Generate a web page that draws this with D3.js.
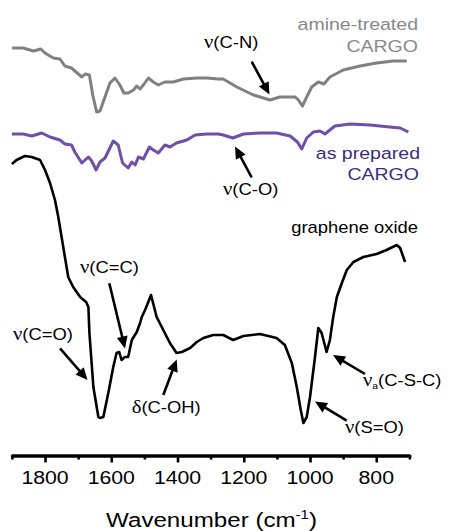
<!DOCTYPE html>
<html>
<head>
<meta charset="utf-8">
<script src="https://cdn.jsdelivr.net/npm/d3@7"></script>
<style>
  body { margin: 0; background: #fff; }
  svg { display: block; font-family: "Liberation Sans", Arial, sans-serif; }
</style>
</head>
<body>
<svg id="chart" width="451" height="531"></svg>
<script>
// IR spectra, transmittance in arbitrary units (offset stacked)
const amineTreated = [[1900,422],[1866,422],[1835,419],[1813,421],[1800,417],[1775,412],[1755,411],[1740,404],[1720,402],[1689,393],[1679,396],[1666,395],[1656,375],[1644,358],[1634,359],[1619,373],[1604,387],[1589,392],[1574,385],[1562,377],[1549,377],[1533,380],[1523,384],[1513,381],[1501,386],[1488,392],[1473,388],[1458,385],[1438,388],[1413,388],[1382,391],[1342,392],[1312,392],[1277,391],[1262,391],[1221,383],[1171,375],[1121,370],[1091,373],[1045,373],[1035,370],[1023,364],[1010,373],[995,383],[975,388],[958,386],[940,393],[900,400],[849,404],[799,407],[749,409],[708,409]];

const asPrepared = [[1900,336],[1866,336],[1840,334],[1810,337],[1785,333],[1755,330],[1740,326],[1720,325],[1710,318],[1689,307],[1669,313],[1659,309],[1646,300],[1634,308],[1619,312],[1594,329],[1579,325],[1566,307],[1549,302],[1538,308],[1528,305],[1518,313],[1503,311],[1485,323],[1473,320],[1458,317],[1438,325],[1423,323],[1403,327],[1372,330],[1347,335],[1312,336],[1277,336],[1262,335],[1233,332],[1201,336],[1151,337],[1101,337],[1060,334],[1038,328],[1025,321],[1010,332],[990,338],[970,339],[955,336],[925,344],[879,346],[819,345],[759,343],[728,342],[703,338]];

const grapheneOxide = [[1900,306],[1886,310],[1861,314],[1840,313],[1815,310],[1800,300],[1785,287],[1770,270],[1760,253],[1750,233],[1740,213],[1730,193],[1715,183],[1694,173],[1676,168],[1669,163],[1666,137],[1654,83],[1639,53],[1634,52],[1624,53],[1609,77],[1594,103],[1584,117],[1576,118],[1569,110],[1559,113],[1549,113],[1538,130],[1523,138],[1513,147],[1508,153],[1498,160],[1480,175],[1463,153],[1443,140],[1423,127],[1403,117],[1387,118],[1362,122],[1342,128],[1322,132],[1292,135],[1262,135],[1232,130],[1201,134],[1151,136],[1101,132],[1076,125],[1055,107],[1040,83],[1028,60],[1020,47],[1010,53],[1000,73],[985,113],[975,142],[965,137],[950,118],[940,130],[930,153],[919,173],[904,187],[889,200],[869,208],[839,213],[799,216],[769,220],[738,225],[728,222],[713,208]];

const majorTicks = [1800, 1600, 1400, 1200, 1000, 800];
const minorTicks = [1900, 1700, 1500, 1300, 1100, 900, 700];

const svg = d3.select("#chart");
const SX = 1.15; // text in the original is a bit wide

const x = d3.scaleLinear().domain([1900, 700]).range([11.9, 409.4]);
const y = d3.scaleLinear().domain([0, 450]).range([470, 20]);

const line = d3.line().x(d => x(d[0])).y(d => y(d[1]));

svg.append("path").datum(amineTreated).attr("d", line)
    .attr("fill", "none").attr("stroke", "#808080").attr("stroke-width", 3).attr("stroke-linejoin", "round");
svg.append("path").datum(asPrepared).attr("d", line)
    .attr("fill", "none").attr("stroke", "#6f4fa8").attr("stroke-width", 3).attr("stroke-linejoin", "round");
svg.append("path").datum(grapheneOxide).attr("d", line)
    .attr("fill", "none").attr("stroke", "#000").attr("stroke-width", 2.6).attr("stroke-linejoin", "round");

// x axis
const axisY = 455.5;
const gMinor = svg.append("g").attr("transform", `translate(0,${axisY})`)
    .call(d3.axisBottom(x).tickValues(minorTicks).tickSize(4).tickSizeOuter(0).tickFormat(""));
const gMajor = svg.append("g").attr("transform", `translate(0,${axisY})`)
    .call(d3.axisBottom(x).tickValues(majorTicks).tickSize(7).tickSizeOuter(0).tickFormat(""));
svg.selectAll(".domain").attr("stroke", "#000").attr("stroke-width", 3).attr("stroke-linecap", "round");
svg.selectAll(".tick line").attr("stroke", "#000").attr("stroke-width", 2.6);

function label(px, py, anchor, size, fill) {
  return svg.append("text")
      .attr("transform", `translate(${px},${py}) scale(${SX},1)`)
      .attr("text-anchor", anchor)
      .attr("font-size", size)
      .attr("fill", fill);
}

majorTicks.forEach(t => label(x(t), 484.3, "middle", 18.5, "#000").text(t));

const title = label(211.5, 526.7, "middle", 21, "#000");
title.append("tspan").text("Wavenumber (cm");
title.append("tspan").attr("font-size", 13).attr("dy", -8).text("-1");
title.append("tspan").attr("dy", 8).text(")");

// series names
label(418, 30, "end", 17, "#888").text("amine-treated");
label(418, 51.7, "end", 17, "#888").text("CARGO");
label(420, 158.5, "end", 17, "#3b2e7e").text("as prepared");
label(419, 180, "end", 17, "#3b2e7e").text("CARGO");
label(418, 233, "end", 16, "#000").text("graphene oxide");

// band annotations
const bands = [
  { sym: "ν", sub: "",  rest: "(C-N)",   tx: 204, ty: 47.5, from: [251.7, 61.7],  to: [269.5, 94.5] },
  { sym: "ν", sub: "",  rest: "(C-O)",   tx: 223, ty: 195,  from: [251.7, 177.5], to: [235, 146.5] },
  { sym: "ν", sub: "",  rest: "(C=C)",   tx: 80,  ty: 272.5, from: [109.3, 283.3], to: [125, 348.5] },
  { sym: "ν", sub: "",  rest: "(C=O)",   tx: 13,  ty: 339.5, from: [60, 348.3],   to: [87.5, 380] },
  { sym: "δ", sub: "",  rest: "(C-OH)",  tx: 131.7, ty: 413, from: [163.3, 395], to: [176.7, 359.5] },
  { sym: "ν", sub: "a", rest: "(C-S-C)", tx: 363, ty: 385.5, from: [365, 374],   to: [333, 355] },
  { sym: "ν", sub: "",  rest: "(S=O)",   tx: 345, ty: 433,  from: [346.7, 420.7], to: [315, 401.5] }
];

bands.forEach(b => {
  const t = label(b.tx, b.ty, "start", 16, "#000");
  t.append("tspan").attr("font-family", "'Liberation Serif', serif").attr("font-size", 18).text(b.sym);
  if (b.sub) t.append("tspan").attr("font-size", 9).attr("dy", 3).text(b.sub);
  t.append("tspan").attr("dy", b.sub ? -3 : 0).text(b.rest);

  // arrow: shaft + filled head
  const dx = b.to[0] - b.from[0], dy = b.to[1] - b.from[1];
  const len = Math.hypot(dx, dy), ux = dx / len, uy = dy / len;
  const headL = 12, headW = 5.5;
  const bx = b.to[0] - ux * headL, by = b.to[1] - uy * headL;
  svg.append("line")
      .attr("x1", b.from[0]).attr("y1", b.from[1]).attr("x2", bx + ux).attr("y2", by + uy)
      .attr("stroke", "#000").attr("stroke-width", 2.6);
  svg.append("path")
      .attr("d", `M${b.to[0]},${b.to[1]}L${bx - uy * headW},${by + ux * headW}L${bx + uy * headW},${by - ux * headW}Z`)
      .attr("fill", "#000");
});
</script>
</body>
</html>
